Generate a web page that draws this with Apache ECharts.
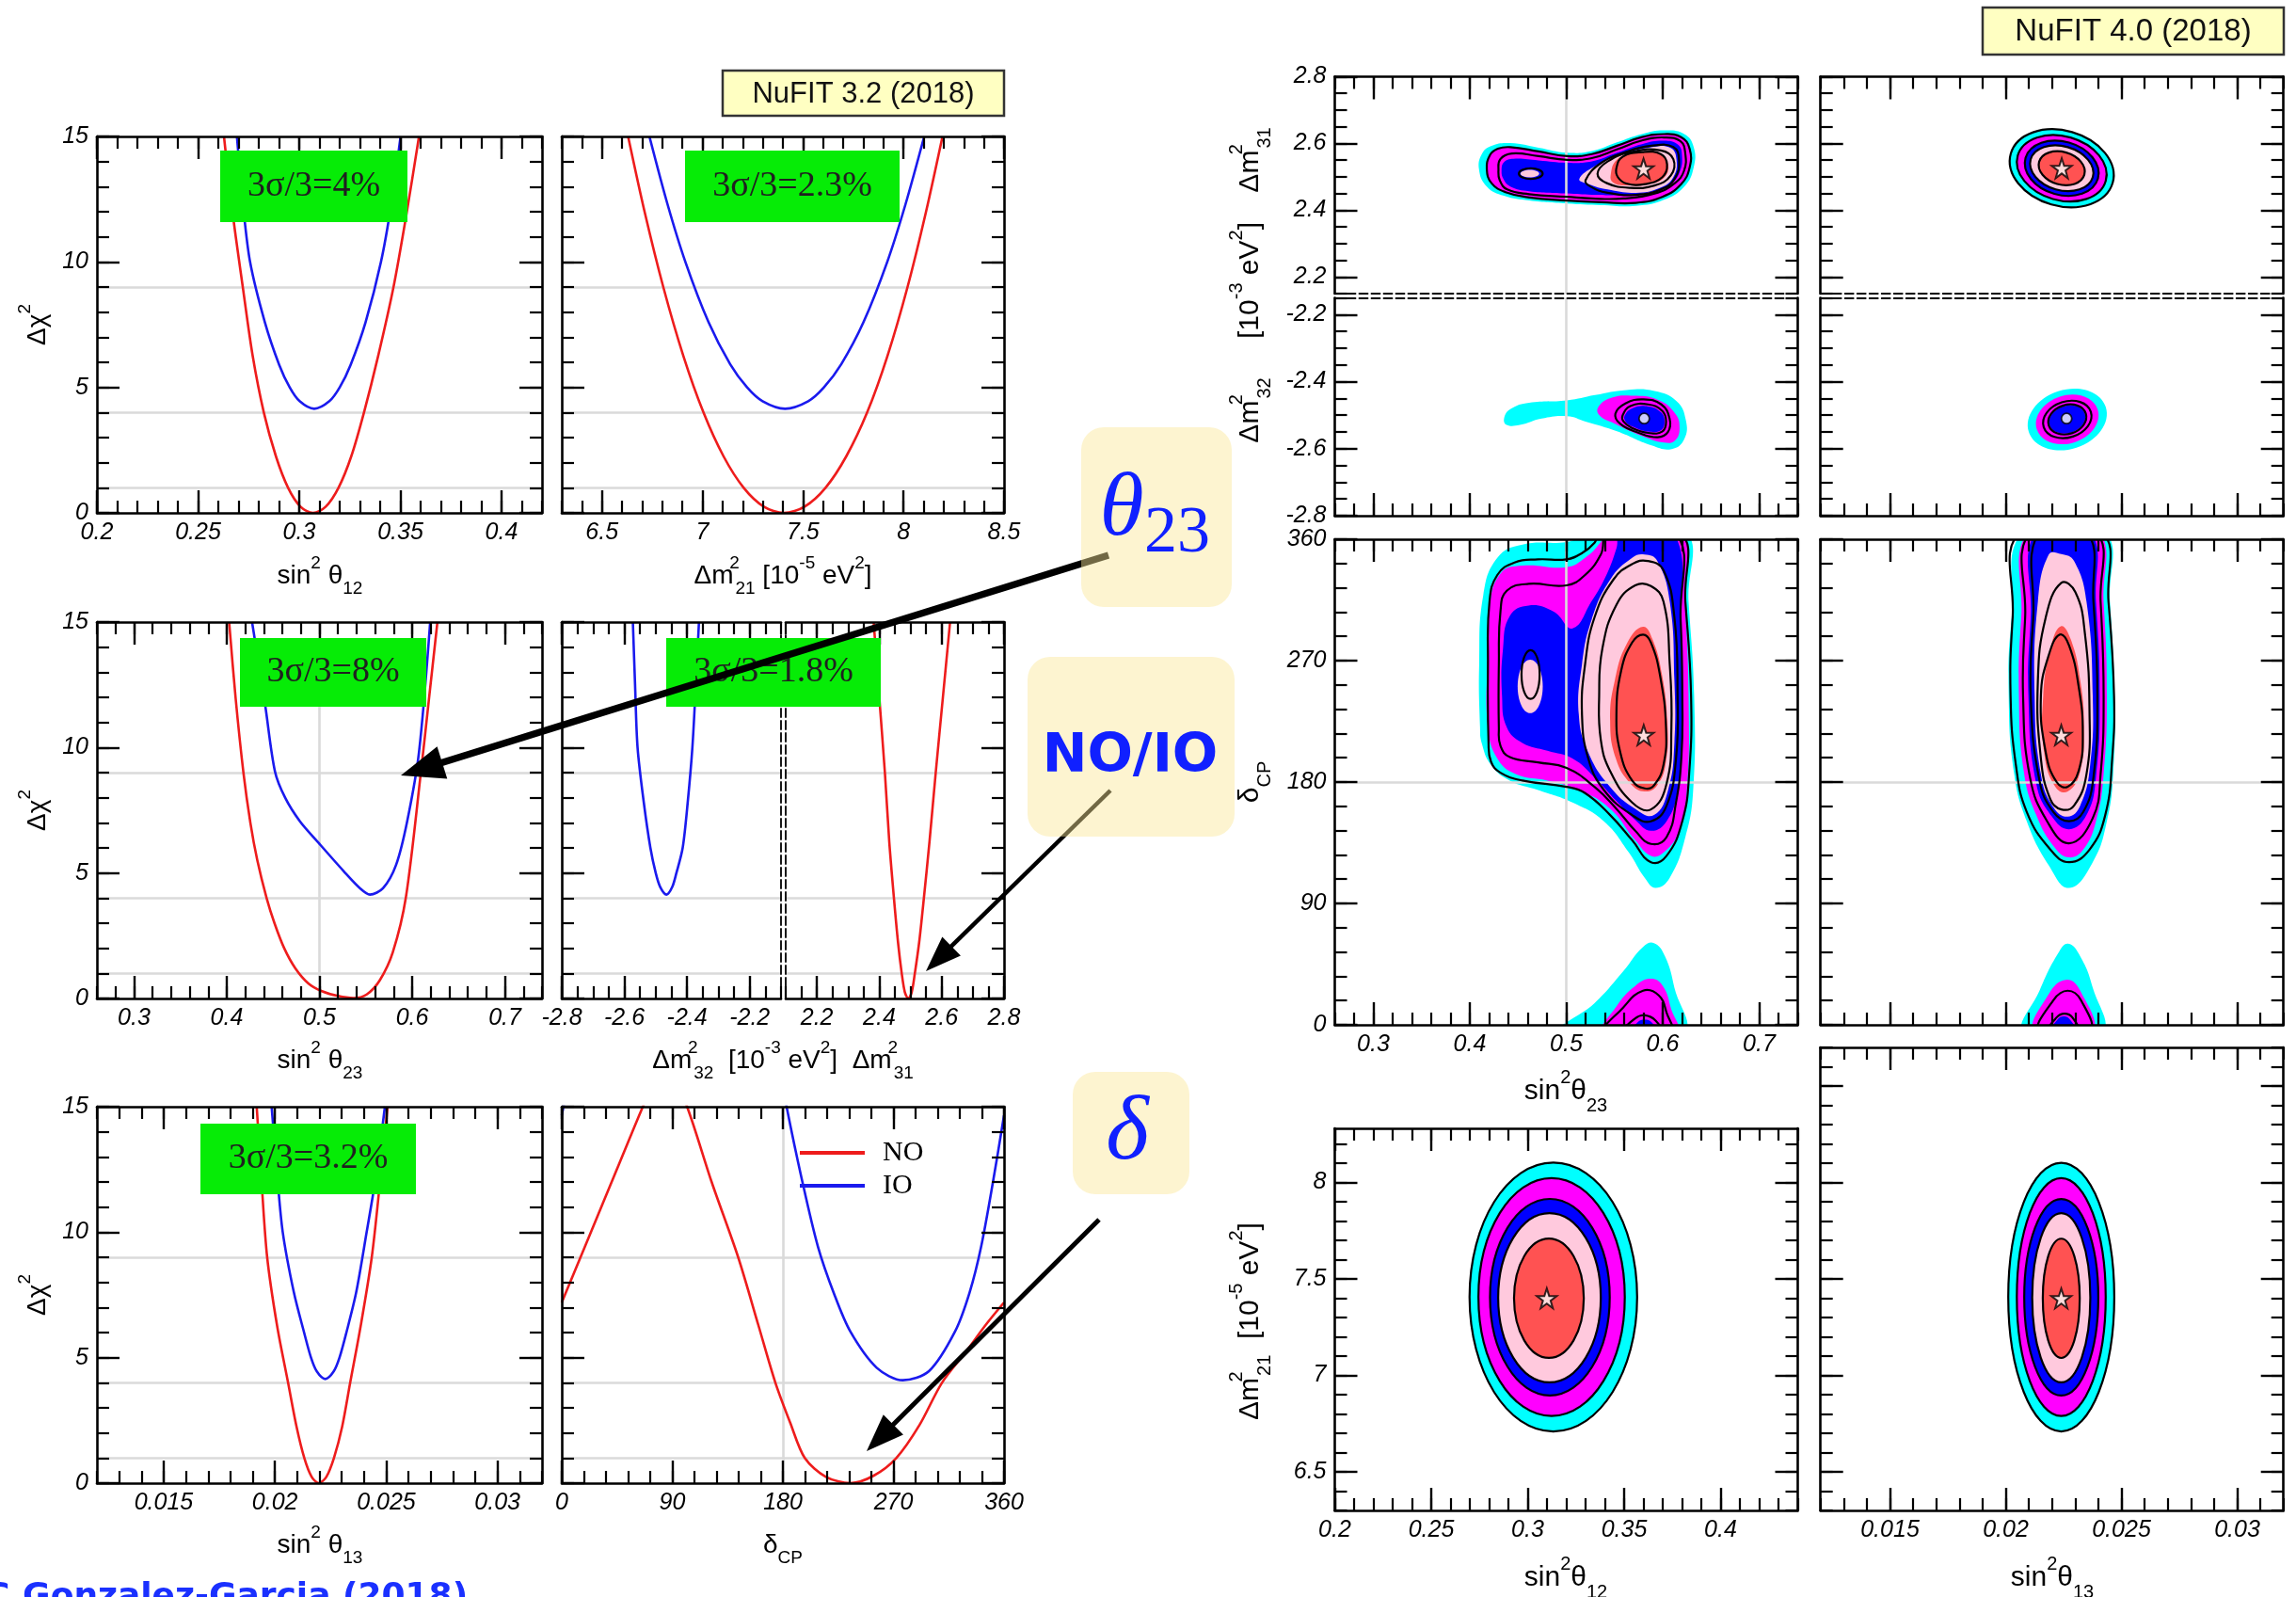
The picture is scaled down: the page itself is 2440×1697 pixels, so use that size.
<!DOCTYPE html>
<html>
<head>
<meta charset="utf-8">
<title>NuFIT 3.2 / NuFIT 4.0 (2018)</title>
<script src="https://cdn.jsdelivr.net/npm/echarts@6.0.0/dist/echarts.min.js"></script>
<style>
html,body{margin:0;padding:0;background:#fff;}
#main{width:2440px;height:1697px;}
</style>
</head>
<body>
<div id="main"></div>
<script>
// ---------- NuFIT 3.2 one-dimensional profiles: [parameter, Δχ²] ----------
const s12NO = [[0.2628,15],[0.2670,12],[0.2721,9],[0.2770,6.25],[0.2825,4],[0.2885,2.25],[0.2945,1],[0.3006,0.25],[0.3068,0],[0.3131,0.25],[0.3194,1],[0.3257,2.25],[0.3320,4],[0.3390,6.25],[0.3466,9],[0.3532,12],[0.3592,15]];
const s12IO = [[0.2692,15],[0.2722,12.3],[0.2757,10],[0.2830,7.6],[0.2901,5.9],[0.2953,5.0],[0.3002,4.45],[0.3074,4.15],[0.3149,4.45],[0.3200,5.0],[0.3254,5.9],[0.3328,7.6],[0.3404,10],[0.3455,12.3],[0.3501,15]];
const dm21NO = [[6.630,15],[6.712,12],[6.805,9],[6.905,6.25],[7.005,4],[7.105,2.25],[7.205,1],[7.305,0.25],[7.405,0],[7.508,0.25],[7.612,1],[7.715,2.25],[7.819,4],[7.920,6.25],[8.020,9],[8.112,12],[8.194,15]];
const dm21IO = [[6.736,15],[6.826,12.3],[6.915,10],[7.030,7.6],[7.138,5.92],[7.222,5.0],[7.299,4.45],[7.411,4.15],[7.526,4.45],[7.604,5.0],[7.690,5.92],[7.801,7.6],[7.919,10],[8.010,12.3],[8.103,15]];
const s23NO = [[0.4026,15],[0.4095,12],[0.4180,9],[0.4255,7],[0.4330,5.5],[0.4430,4],[0.4515,3],[0.4620,2],[0.4740,1.2],[0.4880,0.6],[0.5020,0.3],[0.5200,0.1],[0.5368,0.02],[0.5509,0.16],[0.5650,0.72],[0.5791,1.84],[0.5932,4.03],[0.6095,9.05],[0.6180,11.9],[0.6272,15]];
const s23IO = [[0.4273,15],[0.4414,11.7],[0.4520,9.05],[0.4630,8.0],[0.4789,7.06],[0.4993,6.19],[0.5262,5.07],[0.5438,4.39],[0.5544,4.14],[0.5685,4.39],[0.5826,5.32],[0.5946,7.06],[0.6073,9.8],[0.6194,15]];
const dm32IO = [[-2.573,15],[-2.566,12.5],[-2.558,10],[-2.538,7.8],[-2.517,6],[-2.500,5],[-2.486,4.45],[-2.4655,4.14],[-2.447,4.45],[-2.434,5],[-2.414,6],[-2.398,7.8],[-2.383,10],[-2.372,12.5],[-2.362,15]];
const dm31NO = [[2.382,15],[2.400,12],[2.418,9],[2.432,6.25],[2.447,4],[2.460,2.25],[2.472,1],[2.482,0.25],[2.493,0],[2.504,0.25],[2.514,1],[2.528,2.25],[2.543,4],[2.561,6.25],[2.581,9],[2.604,12],[2.627,15]];
const s13NO = [[0.01918,15],[0.01940,12],[0.01965,9],[0.02010,6.25],[0.02059,4],[0.02097,2.25],[0.02132,1],[0.02165,0.25],[0.02197,0],[0.02231,0.25],[0.02265,1],[0.02302,2.25],[0.02338,4],[0.02385,6.25],[0.02435,9],[0.02472,12],[0.02506,15]];
const s13IO = [[0.01985,15],[0.0201,12.3],[0.02035,10],[0.02085,7.6],[0.02131,6],[0.02162,5],[0.02188,4.45],[0.02226,4.15],[0.02264,4.45],[0.0229,5],[0.02321,6],[0.02365,7.6],[0.02412,10],[0.02455,12.3],[0.02494,15]];
const dcpNO = [[0,7.2],[22,9.8],[44,12.4],[66,15],[84,17],[102,15],[122,12],[143.6,9],[160,6.3],[173.9,4],[186,2.4],[197.8,1],[215,0.25],[235,0],[254,0.3],[272.3,1],[291,2.3],[309.5,4],[330,5.3],[345,6.3],[360,7.2]];
const dcpIOlow = [[0,14.65],[3,15.4]];
const dcpIO = [[182,15.4],[183,15],[195,12.2],[208.5,9.43],[222,7.5],[235,6.03],[256.3,4.6],[277.6,4.1],[298.9,4.46],[320,6.03],[332,7.6],[341.4,9.43],[351,12],[360,14.65]];

// ---------- tick labels ----------
const chi2Ticks = ['0','5','10','15'];
const s12Ticks = ['0.2','0.25','0.3','0.35','0.4'];
const dm21Ticks = ['6.5','7','7.5','8','8.5'];
const dm21TicksShort = ['6.5','7','7.5','8'];
const s23Ticks = ['0.3','0.4','0.5','0.6','0.7'];
const dm32Ticks = ['-2.8','-2.6','-2.4','-2.2'];
const dm31Ticks = ['2.2','2.4','2.6','2.8'];
const s13Ticks = ['0.015','0.02','0.025','0.03'];
const dcpTicks = ['0','90','180','270','360'];

// reference levels
const chi2Levels = [1, 4, 9];
const maxMixing = [0.5];
const cpConserving = [180];

// ---------- NuFIT 4.0 allowed regions ----------
// sin²θ23 – Δm²31 (NO)
const n2331Cyan = [[0.4095,2.523],[0.4128,2.570],[0.4225,2.593],[0.442,2.601],[0.4713,2.587],[0.5008,2.572],[0.5265,2.577],[0.5525,2.603],[0.5785,2.628],[0.6013,2.639],[0.6224,2.628],[0.6321,2.589],[0.6321,2.528],[0.6224,2.471],[0.6013,2.431],[0.572,2.413],[0.5363,2.415],[0.5008,2.420],[0.4615,2.429],[0.4355,2.443],[0.4176,2.471]];
const n2331Mag = [[0.4176,2.523],[0.4209,2.565],[0.429,2.584],[0.442,2.589],[0.4713,2.576],[0.5008,2.562],[0.5265,2.568],[0.5525,2.593],[0.5785,2.619],[0.6013,2.628],[0.6191,2.619],[0.6279,2.584],[0.6279,2.528],[0.6191,2.478],[0.5996,2.440],[0.572,2.422],[0.5363,2.424],[0.5008,2.429],[0.4615,2.438],[0.4371,2.454],[0.4225,2.481]];
const n2331Blue = [[0.4329,2.518],[0.4355,2.544],[0.4453,2.554],[0.4713,2.549],[0.5008,2.542],[0.5265,2.546],[0.5525,2.572],[0.5785,2.598],[0.6013,2.608],[0.6159,2.596],[0.6201,2.561],[0.6175,2.514],[0.6078,2.478],[0.5883,2.455],[0.559,2.446],[0.5265,2.446],[0.5008,2.450],[0.4615,2.457],[0.442,2.471],[0.4349,2.493]];
const n2331Pink = [[0.5135,2.493],[0.5298,2.532],[0.5525,2.562],[0.585,2.587],[0.6078,2.587],[0.6143,2.551],[0.611,2.499],[0.598,2.468],[0.572,2.452],[0.5428,2.462],[0.5233,2.478]];
const n2331Red = [[0.546,2.504],[0.5525,2.551],[0.572,2.572],[0.5948,2.572],[0.6052,2.542],[0.6019,2.499],[0.585,2.478],[0.5623,2.474],[0.5486,2.483]];
const n2331Isle = [0.4622, 2.5097, 0.00975, 0.0113];
const n2331Line2 = [[0.4297,2.520],[0.4316,2.553],[0.4436,2.570],[0.4713,2.562],[0.5008,2.551],[0.5265,2.556],[0.5525,2.582],[0.5785,2.609],[0.6013,2.618],[0.6182,2.607],[0.6234,2.570],[0.6221,2.518],[0.6126,2.481],[0.5915,2.450],[0.559,2.435],[0.5265,2.435],[0.5008,2.440],[0.4615,2.448],[0.4388,2.462],[0.431,2.490]];
const n2331Line3 = [[0.52,2.490],[0.5363,2.542],[0.5623,2.575],[0.5883,2.593],[0.611,2.589],[0.6169,2.551],[0.6126,2.495],[0.598,2.462],[0.572,2.446],[0.5428,2.452],[0.5249,2.471]];
const n2331Line4 = [[0.5324,2.509],[0.5428,2.546],[0.5688,2.575],[0.598,2.579],[0.611,2.553],[0.6084,2.504],[0.5915,2.474],[0.5655,2.467],[0.5421,2.481]];
const n2331Line5 = [[0.5519,2.525],[0.5584,2.560],[0.5785,2.574],[0.598,2.568],[0.6045,2.537],[0.5996,2.499],[0.5818,2.478],[0.5623,2.480],[0.5535,2.499]];
const n2331IsleLine = [0.4632, 2.5097, 0.01235, 0.016];
const n2331Best = [0.5801, 2.5248];
// sin²θ23 – Δm²32 (IO)
const i2332Cyan = [[0.4355,-2.510],[0.442,-2.482],[0.4615,-2.463],[0.5008,-2.456],[0.5298,-2.440],[0.5623,-2.425],[0.5915,-2.428],[0.6143,-2.458],[0.624,-2.515],[0.6224,-2.571],[0.6094,-2.601],[0.5883,-2.590],[0.5525,-2.548],[0.52,-2.519],[0.5008,-2.503],[0.4745,-2.510],[0.4518,-2.529],[0.4381,-2.529]];
const i2332Mag = [[0.533,-2.477],[0.546,-2.449],[0.5688,-2.442],[0.5948,-2.454],[0.6126,-2.494],[0.6175,-2.538],[0.6126,-2.576],[0.6013,-2.582],[0.5785,-2.562],[0.5493,-2.524],[0.5346,-2.501]];
const i2332Blue = [[0.5606,-2.501],[0.5688,-2.479],[0.585,-2.474],[0.598,-2.491],[0.6019,-2.519],[0.598,-2.545],[0.585,-2.549],[0.5688,-2.534],[0.5616,-2.519]];
const i2332Line1 = [[0.5509,-2.496],[0.5613,-2.465],[0.5801,-2.453],[0.5985,-2.468],[0.6071,-2.510],[0.6055,-2.550],[0.5948,-2.566],[0.5745,-2.552],[0.5560,-2.526]];
const i2332Line2 = [[0.5584,-2.501],[0.5665,-2.473],[0.585,-2.468],[0.5994,-2.487],[0.6035,-2.519],[0.5994,-2.549],[0.585,-2.553],[0.568,-2.538],[0.5594,-2.519]];
const i2332Best = [0.5808, -2.510];
// sin²θ13 – Δm²3l ellipses: [centre x, centre y, half-width, half-height]
const n1331Cyan = [0.02242, 2.5257, 0.00229, 0.1128];
const n1331Mag = [0.02242, 2.5257, 0.001978, 0.0959];
const n1331Blue = [0.02242, 2.5257, 0.001626, 0.0799];
const n1331Pink = [0.02242, 2.5257, 0.001396, 0.0658];
const n1331Red = [0.02242, 2.5257, 0.001016, 0.0489];
const n1331Tilt = 16;
const n1331Best = [0.02242, 2.5257];
const i1332Cyan = [0.02266, -2.5128, 0.001748, 0.0884];
const i1332Mag = [0.02266, -2.5128, 0.001382, 0.0714];
const i1332Line1 = [0.02266, -2.5128, 0.00107, 0.0536];
const i1332Blue = [0.02266, -2.5128, 0.0008, 0.0404];
const i1332Line2 = [0.02266, -2.5128, 0.00084, 0.0432];
const i1332Tilt = -18;
const i1332Best = [0.02263, -2.510];
// sin²θ23 – δCP
const n23dCyan = [[0.4106,220.6],[0.4097,267.2],[0.4139,318.3],[0.4285,346.2],[0.4545,356.0],[0.5003,357.9],[0.5195,362],[0.6215,366],[0.6268,313.7],[0.6326,243.9],[0.6316,174.1],[0.6235,139.2],[0.6073,109.0],[0.5926,101.5],[0.5813,109.0],[0.565,127.6],[0.539,150.9],[0.5065,164.8],[0.4708,174.1],[0.4415,181.1],[0.422,192.7],[0.4123,209.0]];
const n23dMag = [[0.4188,220.6],[0.4181,267.2],[0.4204,309.0],[0.4318,334.6],[0.4545,340.4],[0.5003,339.3],[0.5195,346.2],[0.5358,357.9],[0.542,366],[0.617,366],[0.6229,313.7],[0.6268,243.9],[0.6251,174.1],[0.617,143.9],[0.6008,127.6],[0.5878,125.3],[0.5715,136.9],[0.5455,160.2],[0.513,174.1],[0.4805,181.1],[0.448,185.8],[0.4285,197.4]];
const n23dBlue = [[0.4334,243.9],[0.4344,278.8],[0.4415,303.2],[0.461,310.9],[0.487,306.2],[0.5065,293.9],[0.526,313.7],[0.5423,334.6],[0.552,353.2],[0.5569,366],[0.6105,366],[0.6186,290.4],[0.6203,220.6],[0.6154,174.1],[0.604,150.9],[0.5878,143.9],[0.5715,152.0],[0.552,166.0],[0.5293,183.4],[0.5065,197.4],[0.4805,203.2],[0.4545,209.0],[0.4383,220.6]];
const n23dPink = [[0.513,230.0],[0.5163,267.2],[0.526,299.7],[0.5455,330.0],[0.5683,346.2],[0.5813,348.6],[0.5943,343.9],[0.6073,313.7],[0.6121,255.5],[0.6121,209.0],[0.6056,174.1],[0.591,155.5],[0.5715,160.2],[0.5455,176.4],[0.5228,202.0]];
const n23dRed = [[0.5455,225.3],[0.5504,255.5],[0.5634,283.4],[0.5796,295.1],[0.5894,285.8],[0.5991,260.2],[0.6047,225.3],[0.6034,195.1],[0.5943,177.6],[0.5813,173.0],[0.5666,178.8],[0.5514,197.4]];
const n23dIsle = [0.4626, 250.9, 0.013, 19.8];
const n23dIsleLine = [0.463, 259.7, 0.0094, 18.1];
const n23dLine1 = [[0.4194,209.0],[0.4188,267.2],[0.4204,313.7],[0.4285,333.5],[0.4464,342.8],[0.4708,345.1],[0.5003,345.1],[0.5163,349.7],[0.5293,357.4],[0.5358,366],[0.617,366],[0.6235,313.7],[0.6294,243.9],[0.6274,185.8],[0.6203,150.9],[0.604,125.3],[0.5878,120.6],[0.5683,136.9],[0.5455,155.5],[0.5195,171.8],[0.5003,176.4],[0.4545,181.1],[0.4318,186.9],[0.422,195.0]];
const n23dLine2 = [[0.4301,220.6],[0.4301,267.2],[0.4318,306.7],[0.4383,321.8],[0.461,326.9],[0.5003,325.8],[0.5195,333.5],[0.5358,348.6],[0.5439,366],[0.6125,366],[0.6186,300],[0.6203,243.9],[0.6195,200],[0.6138,165],[0.604,139.2],[0.5878,134.1],[0.5715,143.9],[0.552,160.2],[0.5293,176.4],[0.5003,190.4],[0.4708,194.6],[0.4415,198.5],[0.4318,206.7]];
const n23dLine3 = [[0.5163,230.0],[0.5195,267.2],[0.5293,302.1],[0.5488,330.0],[0.5683,341.6],[0.5845,343.9],[0.6008,337.0],[0.6121,302.1],[0.6154,243.9],[0.6138,197.4],[0.604,162.5],[0.5878,150.9],[0.5683,155.5],[0.539,174.1],[0.5228,197.4]];
const n23dLine4 = [[0.5341,243.9],[0.5374,278.8],[0.552,311.4],[0.5715,325.8],[0.5878,325.3],[0.6008,313.7],[0.6073,267.2],[0.609,220.6],[0.604,178.8],[0.5878,159.7],[0.5683,164.8],[0.5455,188.1],[0.5358,211.3]];
const n23dLine5 = [[0.552,230.0],[0.5569,262.5],[0.5683,283.4],[0.5796,289.3],[0.5878,283.4],[0.5975,257.9],[0.6034,220.6],[0.6008,192.7],[0.591,177.6],[0.5813,175.3],[0.5683,181.1],[0.556,202.0]];
const n23dLobeCyan = [[0.494,-5],[0.5293,16.0],[0.5585,39.2],[0.5796,57.8],[0.591,60.6],[0.6024,50.8],[0.6121,27.6],[0.6203,-5]];
const n23dLobeMag = [[0.539,-5],[0.552,13.6],[0.5715,28.8],[0.5878,34.1],[0.6001,28.8],[0.6089,11.3],[0.6144,-5]];
const n23dLobeBlue = [[0.5683,-5],[0.574,2.0],[0.5813,3.9],[0.5884,2.0],[0.5943,-5]];
const n23dLobeLine1 = [[0.5406,-5],[0.5585,12.4],[0.5796,25.3],[0.5959,21.8],[0.604,9.0],[0.6079,-5]];
const n23dLobeLine2 = [[0.5601,-5],[0.5715,4.8],[0.5813,7.1],[0.5926,3.2],[0.5975,-5]];
const n23dBest = [0.5803, 214.8];
// sin²θ13 – δCP
const n13dCyan = [[0.0208,366],[0.02423,366],[0.0245,313.7],[0.0247,243.9],[0.02464,185.8],[0.02437,150.9],[0.02376,120.6],[0.02274,101.5],[0.02186,118.3],[0.02091,150.9],[0.02037,185.8],[0.02013,243.9],[0.02026,302.1]];
const n13dMag = [[0.02102,366],[0.02396,366],[0.02423,313.7],[0.02437,243.9],[0.02423,185.8],[0.0239,150.9],[0.02335,129.9],[0.02274,124.1],[0.02213,131.1],[0.02132,155.5],[0.02078,188.1],[0.02057,243.9],[0.02067,302.1]];
const n13dBlue = [[0.02132,366],[0.02362,366],[0.0239,313.7],[0.02406,243.9],[0.0239,183.4],[0.02349,155.5],[0.02274,145.0],[0.022,154.3],[0.02132,178.8],[0.02098,243.9],[0.02108,302.1]];
const n13dPink = [[0.02186,348.6],[0.0224,349.0],[0.02295,343.9],[0.02349,313.7],[0.02376,243.9],[0.02365,192.7],[0.02322,162.5],[0.02268,154.3],[0.02206,161.3],[0.02152,185.8],[0.02125,243.9],[0.02139,313.7]];
const n13dRed = [[0.02238,295.5],[0.02281,285.8],[0.02322,255.5],[0.02338,220.6],[0.02322,188.1],[0.02268,173.0],[0.02214,176.5],[0.02166,202.0],[0.02162,243.9],[0.02193,278.8]];
const n13dLine1 = [[0.02064,366],[0.0241,366],[0.02444,313.7],[0.02468,243.9],[0.0246,197.4],[0.0243,155.5],[0.02362,129.9],[0.02274,120.6],[0.02193,129.9],[0.02091,157.8],[0.02044,192.7],[0.02021,243.9],[0.0203,302.1]];
const n13dLine2 = [[0.02108,366],[0.02387,366],[0.0241,313.7],[0.02423,243.9],[0.0241,185.8],[0.02376,153.2],[0.02274,134.6],[0.02179,150.9],[0.02105,183.4],[0.02075,243.9],[0.02084,302.1]];
const n13dLine3 = [[0.02146,366],[0.02349,366],[0.02379,313.7],[0.02396,243.9],[0.02379,183.4],[0.02335,157.8],[0.02274,150.9],[0.02206,157.8],[0.02146,181.1],[0.02108,243.9],[0.02119,302.1]];
const n13dLine4 = [[0.0224,327.6],[0.02301,320.7],[0.02342,290.4],[0.02362,232.3],[0.02349,185.8],[0.02295,162.5],[0.0224,159.7],[0.02193,167.1],[0.02152,197.4],[0.02139,255.5],[0.02173,302.1]];
const n13dLine5 = [[0.02234,289.3],[0.02274,281.1],[0.02315,250.9],[0.02333,216.0],[0.02315,188.1],[0.02268,176.5],[0.0222,180.0],[0.02173,202.0],[0.02152,243.9],[0.02186,274.1]];
const n13dLobeCyan = [[0.0208,-5],[0.02146,25.3],[0.02227,53.2],[0.0227,60.2],[0.02322,50.8],[0.02376,27.6],[0.02414,-5]];
const n13dLobeMag = [[0.02125,-5],[0.02186,22.9],[0.0226,33.4],[0.02322,25.3],[0.02373,-5]];
const n13dLobeBlue = [[0.02197,-5],[0.0222,3.2],[0.02251,6.2],[0.02281,3.2],[0.02301,-5]];
const n13dLobeLine1 = [[0.02146,-5],[0.02206,18.3],[0.02268,25.3],[0.02325,18.3],[0.02362,-5]];
const n13dLobeLine2 = [[0.02186,-5],[0.0222,5.5],[0.02254,8.3],[0.02288,5.5],[0.02311,-5]];
const n13dBest = [0.0224, 214.8];
// sin²θ12 – Δm²21 and sin²θ13 – Δm²21 ellipses
const n1221Cyan = [0.3133, 7.4058, 0.04344, 0.6964];
const n1221Mag = [0.3124, 7.4058, 0.03794, 0.6163];
const n1221Blue = [0.3115, 7.4049, 0.03103, 0.5093];
const n1221Pink = [0.3113, 7.4021, 0.0266, 0.4385];
const n1221Red = [0.311, 7.3994, 0.01808, 0.3091];
const n1221Best = [0.3099, 7.399];
const n1321Cyan = [0.0224, 7.4058, 0.00229, 0.6964];
const n1321Mag = [0.0224, 7.4058, 0.00192, 0.6163];
const n1321Blue = [0.0224, 7.4049, 0.0016, 0.5093];
const n1321Pink = [0.0224, 7.4021, 0.001255, 0.4385];
const n1321Red = [0.0224, 7.3994, 0.000798, 0.3091];
const n1321Best = [0.0224, 7.399];

// ---------- styling ----------
const RED = '#ee1c1c', BLUE = '#1a1aee';
const CY = '#00ffff', MG = '#ff00ff', BL = '#0000ff', PK = '#ffc9dd', RD = '#ff5252';
const INK = '#000';
const LBL = {fontFamily: 'Liberation Sans', fontStyle: 'italic', fontSize: 25, color: INK};

function steps(min, max, step) {
  const out = [];
  const k0 = Math.ceil(min / step - 1e-9), k1 = Math.floor(max / step + 1e-9);
  for (let k = k0; k <= k1; k++) out.push(+(k * step).toFixed(6));
  return out;
}
function fmt(labels) {
  return v => {
    for (const s of labels) if (Math.abs(Number(s) - v) < 1e-7) return s;
    return '';
  };
}

const AX = {
  chi2: {min: 0, max: 15, ticks: chi2Ticks, minor: 1},
  s12L: {min: 0.2, max: 0.42, ticks: s12Ticks, minor: 0.01},
  s12R: {min: 0.2, max: 0.44, ticks: s12Ticks, minor: 0.01},
  dm21L: {min: 6.3, max: 8.5, ticks: dm21Ticks, minor: 0.1},
  dm21Ra: {min: 6.3, max: 8.28, ticks: dm21TicksShort, minor: 0.1},
  dm21Rb: {min: 6.3, max: 8.7, ticks: dm21Ticks, minor: 0.1},
  s23: {min: 0.26, max: 0.74, ticks: s23Ticks, minor: 0.02},
  dm32L: {min: -2.8, max: -2.1, ticks: dm32Ticks, minor: 0.05},
  dm31L: {min: 2.1, max: 2.8, ticks: dm31Ticks, minor: 0.05},
  dm32R: {min: -2.8, max: -2.15, ticks: dm32Ticks, minor: 0.05},
  dm31R: {min: 2.15, max: 2.8, ticks: dm31Ticks, minor: 0.05},
  s13: {min: 0.012, max: 0.032, ticks: s13Ticks, minor: 0.001},
  dcp: {min: 0, max: 360, ticks: dcpTicks, minor: 18}
};

const grid = [], xAxis = [], yAxis = [];
// one side of a frame: a major axis (line, long ticks, labels) and a minor axis (short ticks)
function side(list, gi, pos, ax, o) {
  const majors = ax.ticks.map(Number);
  const minors = steps(ax.min, ax.max, ax.minor);
  const base = {gridIndex: gi, type: 'value', position: pos, min: ax.min, max: ax.max, z: 10, silent: true,
    splitLine: {show: false}, minorTick: {show: false}, axisPointer: {show: false}};
  const idx = list.length;
  list.push(Object.assign({}, base, {
    axisLine: {show: true, onZero: false, lineStyle: {color: INK, width: o.dash ? 1.8 : 2.6, type: o.dash ? [9, 4] : 'solid'}},
    axisTick: {show: !o.dash, inside: true, length: 24, customValues: majors, lineStyle: {color: INK, width: 2.4}},
    axisLabel: Object.assign({show: !!o.labels, customValues: majors, formatter: fmt(ax.ticks), margin: 9}, LBL)
  }));
  list.push(Object.assign({}, base, {
    axisLine: {show: false, onZero: false},
    axisTick: {show: !o.dash, inside: true, length: 13, customValues: minors, lineStyle: {color: INK, width: 2.2}},
    axisLabel: {show: false}
  }));
  return idx;
}
function panel(box, xa, ya, o) {
  o = o || {};
  const gi = grid.length;
  grid.push({left: box[0], top: box[1], width: box[2], height: box[3], show: false});
  const x = side(xAxis, gi, 'bottom', xa, {labels: o.xLabels, dash: o.dashBottom});
  side(xAxis, gi, 'top', xa, {dash: o.dashTop});
  const y = side(yAxis, gi, 'left', ya, {labels: o.yLabels, dash: o.dashLeft});
  side(yAxis, gi, 'right', ya, {dash: o.dashRight});
  return {x, y};
}

// left block: NuFIT 3.2 Δχ² profiles
const L1A = panel([103, 145, 473, 400], AX.s12L, AX.chi2, {xLabels: true, yLabels: true});
const L1B = panel([597, 145, 470, 400], AX.dm21L, AX.chi2, {xLabels: true});
const L2A = panel([103, 661, 473, 400], AX.s23, AX.chi2, {xLabels: true, yLabels: true});
const L2B1 = panel([597, 661, 233, 400], AX.dm32L, AX.chi2, {xLabels: true, dashRight: true});
const L2B2 = panel([835, 661, 232, 400], AX.dm31L, AX.chi2, {xLabels: true, dashLeft: true});
const L3A = panel([103, 1176, 473, 400], AX.s13, AX.chi2, {xLabels: true, yLabels: true});
const L3B = panel([597, 1176, 470, 400], AX.dcp, AX.chi2, {xLabels: true});
// right block: NuFIT 4.0 two-dimensional regions
const R1Au = panel([1418.5, 81.5, 492, 230.5], AX.s23, AX.dm31R, {yLabels: true, dashBottom: true});
const R1Al = panel([1418.5, 316.5, 492, 231.5], AX.s23, AX.dm32R, {yLabels: true, dashTop: true});
const R1Bu = panel([1934.7, 81.5, 492, 230.5], AX.s13, AX.dm31R, {dashBottom: true});
const R1Bl = panel([1934.7, 316.5, 492, 231.5], AX.s13, AX.dm32R, {dashTop: true});
const R2A = panel([1418.5, 573, 492, 516], AX.s23, AX.dcp, {xLabels: true, yLabels: true});
const R2B = panel([1934.7, 573, 492, 516], AX.s13, AX.dcp, {});
const R3A = panel([1418.5, 1199, 492, 406], AX.s12R, AX.dm21Ra, {xLabels: true, yLabels: true});
const R3B = panel([1934.7, 1113, 492, 492], AX.s13, AX.dm21Rb, {xLabels: true});

const series = [];
function curve(p, data, name, color) {
  return {type: 'line', name, xAxisIndex: p.x, yAxisIndex: p.y, data, symbol: 'none', showSymbol: false,
    smooth: 0.3, clip: true, silent: true, z: 3, lineStyle: {color, width: 2.6}, itemStyle: {color}};
}
function refLines(p, hs, vs, z) {
  const d = hs.map(v => ({yAxis: v})).concat(vs.map(v => ({xAxis: v})));
  return {type: 'line', xAxisIndex: p.x, yAxisIndex: p.y, data: [], silent: true, z,
    markLine: {silent: true, z, symbol: ['none', 'none'], label: {show: false}, animation: false,
      lineStyle: {color: '#dadada', width: 2.6, type: 'solid'}, emphasis: {disabled: true}, data: d}};
}
function regions(p, layers, z) {
  return {type: 'custom', xAxisIndex: p.x, yAxisIndex: p.y, z, clip: true, silent: true,
    data: layers.map(l => (l.pts ? l.pts[0] : l.ell.slice(0, 2))),
    renderItem: (params, api) => {
      const l = layers[params.dataIndex];
      const style = {fill: l.fill || 'none', stroke: l.stroke ? INK : null, lineWidth: l.stroke ? 2.2 : 0};
      if (l.ell) {
        const c = api.coord([l.ell[0], l.ell[1]]);
        const s = api.size([l.ell[2], l.ell[3]]);
        return {type: 'ellipse', x: c[0], y: c[1], rotation: -(l.tilt || 0) * Math.PI / 180,
          shape: {cx: 0, cy: 0, rx: s[0], ry: s[1]}, style};
      }
      return {type: 'polygon', shape: {points: l.pts.map(q => api.coord(q)), smooth: 0.45}, style};
    }};
}
const STAR = 'path://M50 2 L62 38 L99 38 L69 60 L80 96 L50 74 L20 96 L31 60 L1 38 L38 38 Z';
function best(p, pt, star) {
  return {type: 'scatter', xAxisIndex: p.x, yAxisIndex: p.y, data: [pt], silent: true, z: 6,
    symbol: star ? STAR : 'circle', symbolSize: star ? 21 : 11,
    itemStyle: {color: '#fff', borderColor: INK, borderWidth: star ? 2 : 1.8}};
}

// --- left block series ---
[L1A, L1B, L2B1, L2B2, L3A].forEach(p => series.push(refLines(p, chi2Levels, [], 1)));
series.push(refLines(L2A, chi2Levels, maxMixing, 1));
series.push(refLines(L3B, chi2Levels, cpConserving, 1));
series.push(curve(L1A, s12NO, 'NO', RED), curve(L1A, s12IO, 'IO', BLUE));
series.push(curve(L1B, dm21NO, 'NO', RED), curve(L1B, dm21IO, 'IO', BLUE));
series.push(curve(L2A, s23NO, 'NO', RED), curve(L2A, s23IO, 'IO', BLUE));
series.push(curve(L2B1, dm32IO, 'IO', BLUE), curve(L2B2, dm31NO, 'NO', RED));
series.push(curve(L3A, s13NO, 'NO', RED), curve(L3A, s13IO, 'IO', BLUE));
series.push(curve(L3B, dcpNO, 'NO', RED), curve(L3B, dcpIO, 'IO', BLUE), curve(L3B, dcpIOlow, 'IO', BLUE));

// --- right block series ---
series.push(regions(R1Au, [
  {pts: n2331Cyan, fill: CY}, {pts: n2331Mag, fill: MG}, {pts: n2331Blue, fill: BL},
  {ell: n2331Isle, fill: PK}, {pts: n2331Pink, fill: PK}, {pts: n2331Red, fill: RD}], 2));
series.push(refLines(R1Au, [], maxMixing, 3));
series.push(regions(R1Au, [
  {pts: n2331Mag, stroke: true}, {pts: n2331Line2, stroke: true}, {pts: n2331Line3, stroke: true},
  {pts: n2331Line4, stroke: true}, {pts: n2331Line5, stroke: true}, {ell: n2331IsleLine, stroke: true}], 4));
series.push(best(R1Au, n2331Best, true));

series.push(regions(R1Al, [{pts: i2332Cyan, fill: CY}, {pts: i2332Mag, fill: MG}, {pts: i2332Blue, fill: BL}], 2));
series.push(refLines(R1Al, [], maxMixing, 3));
series.push(regions(R1Al, [{pts: i2332Line1, stroke: true}, {pts: i2332Line2, stroke: true}], 4));
series.push(best(R1Al, i2332Best, false));

series.push(regions(R1Bu, [
  {ell: n1331Cyan, fill: CY, stroke: true, tilt: n1331Tilt}, {ell: n1331Mag, fill: MG, stroke: true, tilt: n1331Tilt},
  {ell: n1331Blue, fill: BL, stroke: true, tilt: n1331Tilt}, {ell: n1331Pink, fill: PK, stroke: true, tilt: n1331Tilt},
  {ell: n1331Red, fill: RD, stroke: true, tilt: n1331Tilt}], 2));
series.push(best(R1Bu, n1331Best, true));

series.push(regions(R1Bl, [
  {ell: i1332Cyan, fill: CY, tilt: i1332Tilt}, {ell: i1332Mag, fill: MG, tilt: i1332Tilt},
  {ell: i1332Line1, stroke: true, tilt: i1332Tilt}, {ell: i1332Blue, fill: BL, tilt: i1332Tilt},
  {ell: i1332Line2, stroke: true, tilt: i1332Tilt}], 2));
series.push(best(R1Bl, i1332Best, false));

series.push(regions(R2A, [
  {pts: n23dCyan, fill: CY}, {pts: n23dMag, fill: MG}, {pts: n23dBlue, fill: BL}, {ell: n23dIsle, fill: PK},
  {pts: n23dPink, fill: PK}, {pts: n23dRed, fill: RD},
  {pts: n23dLobeCyan, fill: CY}, {pts: n23dLobeMag, fill: MG}, {pts: n23dLobeBlue, fill: BL}], 2));
series.push(refLines(R2A, cpConserving, maxMixing, 3));
series.push(regions(R2A, [
  {pts: n23dLine1, stroke: true}, {pts: n23dLine2, stroke: true}, {pts: n23dLine3, stroke: true},
  {pts: n23dLine4, stroke: true}, {pts: n23dLine5, stroke: true}, {ell: n23dIsleLine, stroke: true},
  {pts: n23dLobeLine1, stroke: true}, {pts: n23dLobeLine2, stroke: true}], 4));
series.push(best(R2A, n23dBest, true));

series.push(regions(R2B, [
  {pts: n13dCyan, fill: CY}, {pts: n13dMag, fill: MG}, {pts: n13dBlue, fill: BL},
  {pts: n13dPink, fill: PK}, {pts: n13dRed, fill: RD},
  {pts: n13dLobeCyan, fill: CY}, {pts: n13dLobeMag, fill: MG}, {pts: n13dLobeBlue, fill: BL}], 2));
series.push(refLines(R2B, cpConserving, [], 3));
series.push(regions(R2B, [
  {pts: n13dLine1, stroke: true}, {pts: n13dLine2, stroke: true}, {pts: n13dLine3, stroke: true},
  {pts: n13dLine4, stroke: true}, {pts: n13dLine5, stroke: true},
  {pts: n13dLobeLine1, stroke: true}, {pts: n13dLobeLine2, stroke: true}], 4));
series.push(best(R2B, n13dBest, true));

series.push(regions(R3A, [
  {ell: n1221Cyan, fill: CY, stroke: true}, {ell: n1221Mag, fill: MG, stroke: true}, {ell: n1221Blue, fill: BL, stroke: true},
  {ell: n1221Pink, fill: PK, stroke: true}, {ell: n1221Red, fill: RD, stroke: true}], 2));
series.push(best(R3A, n1221Best, true));
series.push(regions(R3B, [
  {ell: n1321Cyan, fill: CY, stroke: true}, {ell: n1321Mag, fill: MG, stroke: true}, {ell: n1321Blue, fill: BL, stroke: true},
  {ell: n1321Pink, fill: PK, stroke: true}, {ell: n1321Red, fill: RD, stroke: true}], 2));
series.push(best(R3B, n1321Best, true));

// ---------- titles, labels and annotations ----------
function rich(fs) {
  const sf = Math.round(fs * 0.68);
  const b = {fontFamily: 'Liberation Sans', fill: INK};
  return {
    n: Object.assign({}, b, {fontSize: fs, lineHeight: Math.round(fs * 1.65), verticalAlign: 'middle'}),
    p: Object.assign({}, b, {fontSize: sf, lineHeight: sf, verticalAlign: 'top'}),
    q: Object.assign({}, b, {fontSize: sf, lineHeight: sf, verticalAlign: 'top', width: 2}),
    b: Object.assign({}, b, {fontSize: sf, lineHeight: sf, verticalAlign: 'bottom'})
  };
}
const RL = rich(28), RR = rich(30);
const graphic = [];
function label(x, y, text, r, rot) {
  graphic.push({type: 'text', x, y, rotation: rot || 0, z: 40, silent: true,
    style: {text, rich: r, align: 'center', verticalAlign: 'middle'}});
}
const UP = Math.PI / 2;
[345, 861, 1376].forEach(y => label(40, y, '{n|Δχ}{p|2}', RL, UP));
label(340, 612, '{n|sin}{p|2}{n| θ}{b|12}', RL);
label(832, 612, '{n|Δm}{q|2}{b|21}{n| [10}{p|-5}{n| eV}{p|2}{n|]}', RL);
label(340, 1127, '{n|sin}{p|2}{n| θ}{b|23}', RL);
label(832, 1127, '{n|Δm}{q|2}{b|32}{n|  [10}{p|-3}{n| eV}{p|2}{n|]  Δm}{q|2}{b|31}', RL);
label(340, 1642, '{n|sin}{p|2}{n| θ}{b|13}', RL);
label(832, 1642, '{n|δ}{b|CP}', RL);
label(1329, 170, '{n|Δm}{q|2}{b|31}', RR, UP);
label(1329, 298, '{n|[10}{p|-3}{n| eV}{p|2}{n|]}', RR, UP);
label(1329, 436, '{n|Δm}{q|2}{b|32}', RR, UP);
label(1329, 831, '{n|δ}{b|CP}', RR, UP);
label(1329, 1404, '{n|Δm}{q|2}{b|21}{n|  [10}{p|-5}{n| eV}{p|2}{n|]}', RR, UP);
label(1664, 1160, '{n|sin}{p|2}{n|θ}{b|23}', RR);
label(1664, 1677, '{n|sin}{p|2}{n|θ}{b|12}', RR);
label(2181, 1677, '{n|sin}{p|2}{n|θ}{b|13}', RR);

// version tags
function tag(x, y, w, h, text, fs) {
  graphic.push({type: 'rect', z: 40, silent: true, shape: {x, y, width: w, height: h},
    style: {fill: '#ffffc2', stroke: '#333', lineWidth: 2.5}});
  graphic.push({type: 'text', z: 41, silent: true, x: x + w / 2, y: y + h / 2 + 1,
    style: {text, fontFamily: 'Liberation Sans', fontSize: fs, fill: '#111', align: 'center', verticalAlign: 'middle'}});
}
tag(768, 75, 299, 48, 'NuFIT 3.2 (2018)', 31);
tag(2107, 8, 320, 50, 'NuFIT 4.0 (2018)', 33);

// spread boxes
function spread(x, y, w, h, text) {
  graphic.push({type: 'rect', z: 20, silent: true, shape: {x, y, width: w, height: h}, style: {fill: '#06ec06'}});
  graphic.push({type: 'text', z: 21, silent: true, x: x + w / 2, y: y + h / 2,
    style: {text, fontFamily: 'Liberation Serif', fontSize: 38, fill: '#202020', align: 'center', verticalAlign: 'middle'}});
}
spread(234, 160, 199, 76, '3σ/3=4%');
spread(728, 160, 228, 76, '3σ/3=2.3%');
spread(255, 678, 198, 73, '3σ/3=8%');
spread(708, 678, 228, 73, '3σ/3=1.8%');
spread(213, 1194, 229, 75, '3σ/3=3.2%');

// arrows
function arrow(x0, y0, x1, y1, w, hl, hw) {
  const dx = x1 - x0, dy = y1 - y0, L = Math.hypot(dx, dy), ux = dx / L, uy = dy / L;
  const bx = x1 - ux * hl, by = y1 - uy * hl;
  graphic.push({type: 'line', z: 30, silent: true, shape: {x1: x0, y1: y0, x2: bx + ux * 4, y2: by + uy * 4},
    style: {stroke: INK, lineWidth: w}});
  graphic.push({type: 'polygon', z: 30, silent: true,
    shape: {points: [[x1, y1], [bx - uy * hw, by + ux * hw], [bx + uy * hw, by - ux * hw]]}, style: {fill: INK}});
}
arrow(1178, 590, 426, 824, 7.5, 46, 18);
arrow(1180, 840, 984, 1032, 4.5, 38, 14);
arrow(1168, 1296, 921, 1542, 5, 40, 15);

// callout boxes
function callout(x, y, w, h) {
  graphic.push({type: 'rect', z: 31, silent: true, shape: {x, y, width: w, height: h, r: 24},
    style: {fill: 'rgba(250,230,150,0.45)'}});
}
callout(1149, 454, 160, 191);
callout(1092, 698, 220, 191);
callout(1140, 1139, 124, 130);
const CALL = '#1020ff';
graphic.push({type: 'text', z: 32, silent: true, x: 1192, y: 543,
  style: {text: 'θ', fontFamily: 'Liberation Serif', fontStyle: 'italic', fontSize: 96, fill: CALL, align: 'center', verticalAlign: 'middle'}});
graphic.push({type: 'text', z: 32, silent: true, x: 1251, y: 568,
  style: {text: '23', fontFamily: 'Liberation Serif', fontSize: 70, fill: CALL, align: 'center', verticalAlign: 'middle'}});
graphic.push({type: 'text', z: 32, silent: true, x: 1201, y: 805,
  style: {text: 'NO/IO', fontFamily: 'DejaVu Sans', fontWeight: 'bold', fontSize: 57, fill: CALL, align: 'center', verticalAlign: 'middle'}});
graphic.push({type: 'text', z: 32, silent: true, x: 1198, y: 1205,
  style: {text: 'δ', fontFamily: 'Liberation Serif', fontStyle: 'italic', fontSize: 98, fill: CALL, align: 'center', verticalAlign: 'middle'}});

// author line along the lower edge
graphic.push({type: 'text', z: 32, silent: true, x: -16, y: 1680,
  style: {text: 'C.Gonzalez-Garcia (2018)', fontFamily: 'DejaVu Sans', fontWeight: 'bold', fontSize: 36, fill: '#1a30ff', align: 'left', verticalAlign: 'top'}});

const chart = echarts.init(document.getElementById('main'));
chart.setOption({
  animation: false,
  backgroundColor: '#fff',
  grid, xAxis, yAxis, series, graphic,
  legend: {data: ['NO', 'IO'], orient: 'vertical', left: 845, top: 1205, itemWidth: 69, itemHeight: 4, itemGap: 5,
    icon: 'rect', selectedMode: false, z: 20,
    textStyle: {fontFamily: 'Liberation Serif', fontSize: 30, color: INK, lineHeight: 26, padding: [0, 0, 0, 14]}}
});
</script>
</body>
</html>
